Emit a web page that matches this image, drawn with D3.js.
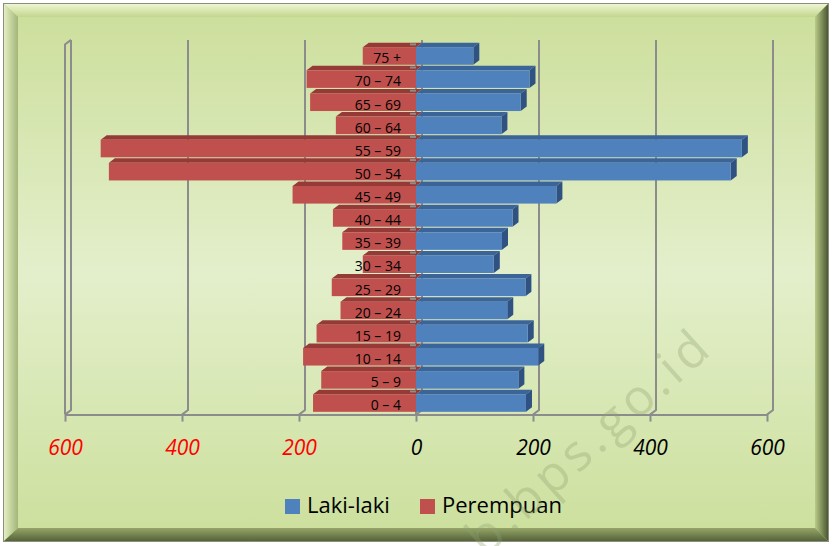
<!DOCTYPE html>
<html>
<head>
<meta charset="utf-8">
<script src="https://cdn.jsdelivr.net/npm/d3@7"></script>
<style>
  body { margin: 0; background: #fff; }
  svg { display: block; font-family: "Open Sans", sans-serif; }
</style>
</head>
<body>
<div class="chart"></div>
<script>
// age groups, bottom to top
var categories = ["0 – 4", "5 – 9", "10 – 14", "15 – 19", "20 – 24", "25 – 29", "30 – 34", "35 – 39",
    "40 – 44", "45 – 49", "50 – 54", "55 – 59", "60 – 64", "65 – 69", "70 – 74", "75 +"];
var laki = [188, 175, 209, 191, 156, 187, 133, 147, 165, 240, 538, 557, 146, 179, 194, 98];
var perempuan = [176, 162, 193, 170, 129, 144, 91, 126, 142, 211, 525, 539, 137, 181, 187, 91];
var tickValues = [-600, -400, -200, 0, 200, 400, 600];
var seriesNames = ["Laki-laki", "Perempuan"];

var svgWidth = 832;
var svgHeight = 546;

// 3d depth offset
var DX = 6, DY = -4.5;

var svg = d3.select(".chart")
    .append("svg")
    .attr("width", svgWidth)
    .attr("height", svgHeight);

var defs = svg.append("defs");

function grad(id, x2, y2, stops) {
    var g = defs.append("linearGradient").attr("id", id)
        .attr("x1", 0).attr("y1", 0).attr("x2", x2).attr("y2", y2);
    stops.forEach(function(s) {
        g.append("stop").attr("offset", s[0]).attr("stop-color", s[1]);
    });
}
grad("bg", 0, 1, [["0%", "#cddf9d"], ["50%", "#e3efcb"], ["100%", "#cde09e"]]);
grad("bvTop", 0, 1, [["0%", "#eef6d2"], ["100%", "#c3d68d"]]);
grad("bvLeft", 1, 0, [["0%", "#e4efc2"], ["100%", "#a3b678"]]);
grad("bvRight", 1, 0, [["0%", "#b9cb88"], ["100%", "#4b5731"]]);
grad("bvBottom", 0, 1, [["0%", "#95a668"], ["100%", "#56633a"]]);

// frame
var L = 4, T = 4, R = 828, B = 541, iL = 18, iT = 17, iR = 815, iB = 528;
svg.append("rect").attr("x", 3.5).attr("y", 3.5).attr("width", R - 3).attr("height", B - 3)
    .attr("fill", "#b9cb8a").attr("stroke", "#8a9080");
svg.append("polygon").attr("points", [[L, T], [R, T], [iR, iT], [iL, iT]].join(" ")).attr("fill", "url(#bvTop)");
svg.append("polygon").attr("points", [[L, T], [iL, iT], [iL, iB], [L, B]].join(" ")).attr("fill", "url(#bvLeft)");
svg.append("polygon").attr("points", [[R, T], [R, B], [iR, iB], [iR, iT]].join(" ")).attr("fill", "url(#bvRight)");
svg.append("polygon").attr("points", [[L, B], [R, B], [iR, iB], [iL, iB]].join(" ")).attr("fill", "url(#bvBottom)");
svg.append("rect").attr("x", iL).attr("y", iT).attr("width", iR - iL).attr("height", iB - iT)
    .attr("fill", "url(#bg)");

// scales
var x = d3.scaleLinear().domain([-600, 600]).range([65, 767]);
var y = d3.scaleBand().domain(categories.slice().reverse())
    .range([44.4, 414.6]).paddingInner(0.24).paddingOuter(0.12);
var top0 = 44.4, floor = 414.6;

var chart = svg.append("g");
var gridColor = "#8c8c8c";

// back gridlines with slant to the floor
chart.selectAll(".grid")
    .data(tickValues)
    .enter()
    .append("path")
    .attr("class", "grid")
    .attr("fill", "none")
    .attr("stroke", gridColor)
    .attr("stroke-width", 2)
    .attr("d", function(v) {
        return "M" + (x(v) + DX) + "," + (top0 + DY) + "V" + (floor + DY) + "L" + x(v) + "," + floor;
    });

// side wall front edge
chart.append("path")
    .attr("fill", "none")
    .attr("stroke", gridColor)
    .attr("stroke-width", 2)
    .attr("d", "M" + x(-600) + "," + floor + "V" + top0 + "L" + (x(-600) + DX) + "," + (top0 + DY));

// x axis
var bottomAxis = d3.axisBottom(x).tickValues(tickValues).tickSize(7).tickSizeOuter(0)
    .tickFormat(function(d) { return Math.abs(d); });
var xAxis = chart.append("g")
    .attr("transform", "translate(0," + floor + ")")
    .call(bottomAxis);
xAxis.select(".domain").attr("stroke", gridColor).attr("stroke-width", 2);
xAxis.selectAll(".tick line").attr("stroke", gridColor).attr("stroke-width", 2);
xAxis.selectAll(".tick text")
    .attr("y", 40.5)
    .attr("dy", 0)
    .attr("font-size", 21)
    .attr("font-style", "italic")
    .attr("font-family", "'Open Sans', sans-serif")
    .attr("fill", function(d) { return d < 0 ? "#ff0000" : "#000"; });

// category axis line
chart.append("line")
    .attr("x1", x(0)).attr("x2", x(0))
    .attr("y1", top0).attr("y2", floor)
    .attr("stroke", gridColor).attr("stroke-width", 2);

var rows = categories.map(function(c, i) {
    return { cat: c, laki: laki[i], perempuan: perempuan[i] };
}).reverse();

var h = y.bandwidth();
var bars = chart.selectAll(".row")
    .data(rows)
    .enter()
    .append("g")
    .attr("class", "row");

function pts(a) { return a.map(function(p) { return p.join(","); }).join(" "); }

// perempuan (left)
bars.append("polygon")
    .attr("fill", "#963a38")
    .attr("points", function(d) {
        var x0 = x(-d.perempuan), x1 = x(0), yy = y(d.cat);
        return pts([[x0, yy], [x0 + DX, yy + DY], [x1 + DX, yy + DY], [x1, yy]]);
    });
bars.append("rect")
    .attr("fill", "#c0504d")
    .attr("x", function(d) { return x(-d.perempuan); })
    .attr("y", function(d) { return y(d.cat); })
    .attr("width", function(d) { return x(0) - x(-d.perempuan); })
    .attr("height", h);

// laki-laki (right)
bars.append("polygon")
    .attr("fill", "#3b6598")
    .attr("points", function(d) {
        var x0 = x(0), x1 = x(d.laki), yy = y(d.cat);
        return pts([[x0, yy], [x0 + DX, yy + DY], [x1 + DX, yy + DY], [x1, yy]]);
    });
bars.append("polygon")
    .attr("fill", "#2f5283")
    .attr("points", function(d) {
        var x1 = x(d.laki), yy = y(d.cat);
        return pts([[x1, yy], [x1 + DX, yy + DY], [x1 + DX, yy + DY + h], [x1, yy + h]]);
    });
bars.append("rect")
    .attr("fill", "#4f81bd")
    .attr("x", x(0))
    .attr("y", function(d) { return y(d.cat); })
    .attr("width", function(d) { return x(d.laki) - x(0); })
    .attr("height", h);

// category tick marks between groups
var step = y.step();
chart.selectAll(".ctick")
    .data(rows)
    .enter()
    .append("line")
    .attr("x1", x(0) - 6).attr("x2", x(0))
    .attr("y1", function(d) { return y(d.cat) - (step - h) / 2; })
    .attr("y2", function(d) { return y(d.cat) - (step - h) / 2; })
    .attr("stroke", gridColor).attr("stroke-width", 2);

// category labels
chart.selectAll(".clabel")
    .data(rows)
    .enter()
    .append("text")
    .attr("x", 401)
    .attr("y", function(d) { return y(d.cat) + h - 1.5; })
    .attr("text-anchor", "end")
    .attr("font-size", 14)
    .attr("fill", "#000")
    .text(function(d) { return d.cat; });

// legend
var legendX = [285, 420];
var legendColors = ["#4f81bd", "#c0504d"];
var legend = svg.selectAll(".legend")
    .data(seriesNames)
    .enter()
    .append("g")
    .attr("transform", function(d, i) { return "translate(" + legendX[i] + ",499)"; });
legend.append("rect")
    .attr("width", 15).attr("height", 15)
    .attr("fill", function(d, i) { return legendColors[i]; });
legend.append("text")
    .attr("x", 22).attr("y", 14)
    .attr("font-size", 22)
    .attr("fill", "#000")
    .text(function(d) { return d; });

// watermark, clipped to the frame like the original
defs.append("clipPath").attr("id", "wmClip")
    .append("rect").attr("x", 0).attr("y", 0).attr("width", svgWidth).attr("height", svgHeight);
svg.append("g")
    .attr("clip-path", "url(#wmClip)")
    .append("text")
    .attr("transform", "translate(716,350) rotate(-42)")
    .attr("text-anchor", "end")
    .attr("font-size", 50)
    .attr("letter-spacing", 5)
    .attr("fill", "#8fa070")
    .attr("fill-opacity", 0.33)
    .text("kab.bps.go.id");
</script>
</body>
</html>
